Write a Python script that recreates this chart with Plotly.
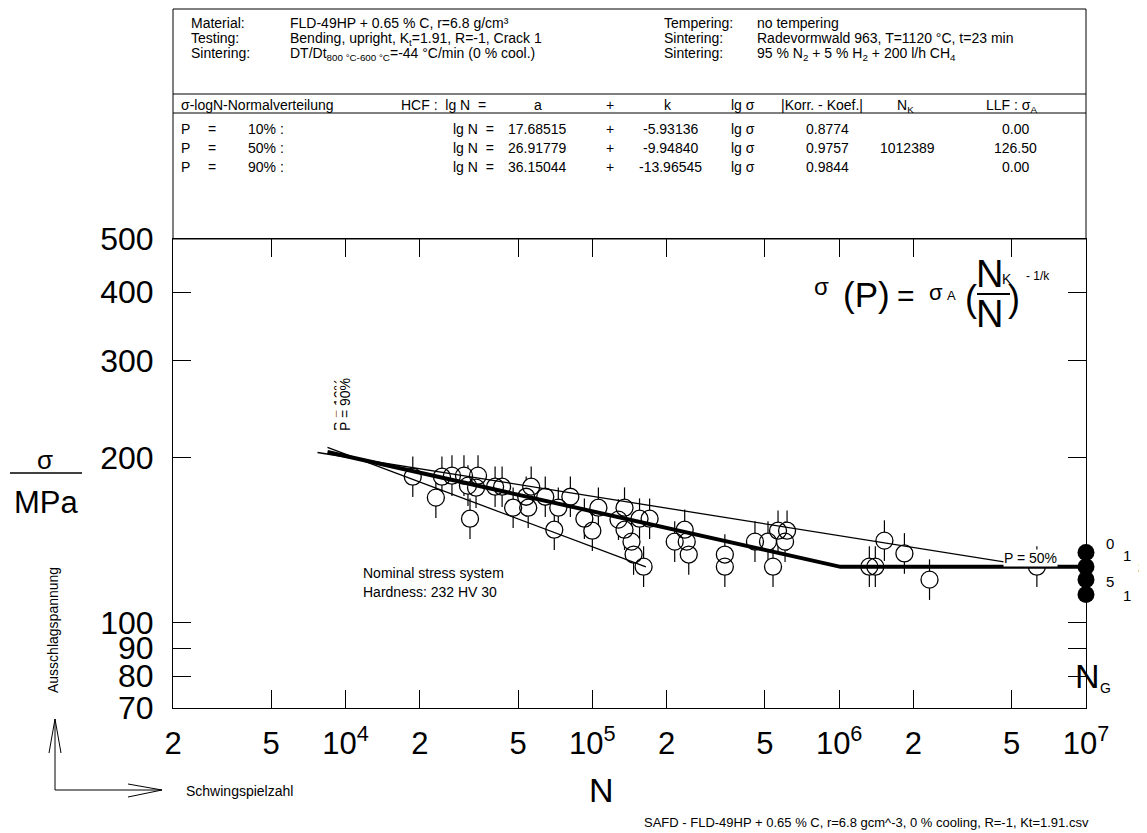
import math
import plotly.graph_objects as go

# ---------------- data ----------------
N_cycles = [18730, 23230, 24580, 26990, 30190, 34420, 31340, 33790, 31940, 40360,
            43090, 47760, 56520, 54960, 53940, 64450, 72790, 70110, 81450, 92830,
            105800, 100000, 127600, 135000, 135000, 144100, 146900, 161300, 155300, 170600,
            215600, 236700, 241200, 245800, 344200, 344200, 455900, 514800, 539500, 565300,
            615000, 603600, 1325000, 1401000, 1525000, 1838000, 2323000, 6324000]
sigma_a = [184.6, 169.1, 184.6, 185.4, 185.4, 185.4, 177.8, 176.3, 154.8, 177.0,
           177.0, 162.1, 177.0, 162.1, 169.7, 169.7, 162.1, 147.8, 169.7, 154.8,
           162.1, 147.2, 154.2, 162.1, 147.8, 140.6, 133.2, 126.6, 154.8, 154.8,
           140.6, 147.8, 140.6, 133.2, 133.2, 126.6, 140.6, 140.6, 126.6, 147.2,
           147.2, 140.6, 126.6, 126.6, 141.2, 133.8, 119.9, 126.6]

runout_N = [1e7, 1e7, 1e7, 1e7]
runout_sigma = [134.3, 126.6, 119.9, 112.6]
runout_labels = ["0", "1", "3", "5", "1"]

p10_N = [8450, 164800]
p10_sigma = [208.7, 126.5]
p50_N = [8450, 1012389, 1e7]
p50_sigma = [204.7, 126.5, 126.5]
p90_N = [7700, 6220000]
p90_sigma = [204.3, 126.5]

x_tickvals = [2e3, 5e3, 1e4, 2e4, 5e4, 1e5, 2e5, 5e5, 1e6, 2e6, 5e6, 1e7]
x_ticktext = ["2", "5", "10<sup>4</sup>", "2", "5", "10<sup>5</sup>",
              "2", "5", "10<sup>6</sup>", "2", "5", "10<sup>7</sup>"]
y_tickvals = [70, 80, 90, 100, 200, 300, 400, 500]
y_ticktext = ["70", "80", "90", "100", "200", "300", "400", "500"]

header_labels_left = ["Material:", "Testing:", "Sintering:"]
header_values_left = ["FLD-49HP + 0.65 % C, r=6.8 g/cm³",
                      "Bending, upright, K<sub>t</sub>=1.91, R=-1, Crack 1",
                      "DT/Dt<sub>800 °C-600 °C</sub>=-44 °C/min (0 % cool.)"]
header_labels_right = ["Tempering:", "Sintering:", "Sintering:"]
header_values_right = ["no tempering",
                       "Radevormwald 963, T=1120 °C, t=23 min",
                       "95 % N<sub>2</sub> + 5 % H<sub>2</sub> + 200 l/h CH<sub>4</sub>"]

prob_levels = ["10% :", "50% :", "90% :"]
coef_a = ["17.68515", "26.91779", "36.15044"]
coef_k = ["-5.93136", "-9.94840", "-13.96545"]
corr_coef = ["0.8774", "0.9757", "0.9844"]
N_K = ["", "1012389", ""]
LLF = ["0.00", "126.50", "0.00"]

# ---------------- layout helpers ----------------
# page offset of the figure inside the html body (default 8px body margin)
OFF = 8
W, H = 1147 - OFF, 833 - OFF
L, R, T, B = 173, 1086, 239, 708        # plot area in page pixels
FONT = "Arial, 'Liberation Sans', sans-serif"


def px(x):
    return (x - L) / (R - L)


def py(y):
    return (B - y) / (B - T)


annotations = []


def ann(text, x, y, size=14, xanchor="left", yanchor="middle", **kw):
    d = dict(text=text, x=px(x), y=py(y), xref="paper", yref="paper",
             showarrow=False, font=dict(size=size, color="black", family=FONT),
             xanchor=xanchor, yanchor=yanchor, borderpad=0)
    d.update(kw)
    annotations.append(d)


shapes = []


def line(x0, y0, x1, y1, w=1.0):
    shapes.append(dict(type="line", xref="paper", yref="paper",
                       x0=px(x0), y0=py(y0), x1=px(x1), y1=py(y1),
                       line=dict(color="black", width=w)))


# header box
shapes.append(dict(type="rect", xref="paper", yref="paper",
                   x0=px(173), y0=py(239), x1=px(1086), y1=py(9),
                   line=dict(color="black", width=1)))
line(173, 94, 1086, 94)
line(173, 113, 1086, 113)

row_y = [22, 37, 52]
for i in range(3):
    ann(header_labels_left[i], 190, row_y[i] - 8, yanchor="top")
    ann(header_values_left[i], 289, row_y[i] - 8, yanchor="top")
    ann(header_labels_right[i], 663, row_y[i] - 8, yanchor="top")
    ann(header_values_right[i], 756, row_y[i] - 8, yanchor="top")

# table header
ty = 104
ann("σ-logN-Normalverteilung", 180, ty - 8, yanchor="top")
ann("HCF :  lg N  =", 400, ty - 8, yanchor="top")
ann("a", 538, ty - 8, xanchor="center", yanchor="top")
ann("+", 610, ty - 8, xanchor="center", yanchor="top")
ann("k", 668, ty - 8, xanchor="center", yanchor="top")
ann("lg σ", 730, ty - 8, yanchor="top")
ann("|Korr. - Koef.|", 822, ty - 8, xanchor="center", yanchor="top")
ann("N<sub>K</sub>", 905, ty - 8, xanchor="center", yanchor="top")
ann("LLF : σ<sub>A</sub>", 985, ty - 8, yanchor="top")

rows = [128, 147, 166]
for i in range(3):
    yy = rows[i] - 8
    ann("P", 180, yy, yanchor="top")
    ann("=", 207, yy, yanchor="top")
    ann(prob_levels[i], 247, yy, yanchor="top")
    ann("lg N  =", 452, yy, yanchor="top")
    ann(coef_a[i], 537, yy, xanchor="center", yanchor="top")
    ann("+", 610, yy, xanchor="center", yanchor="top")
    ann(coef_k[i], 670, yy, xanchor="center", yanchor="top")
    ann("lg σ", 730, yy, yanchor="top")
    ann(corr_coef[i], 827, yy, xanchor="center", yanchor="top")
    if N_K[i]:
        ann(N_K[i], 907, yy, xanchor="center", yanchor="top")
    ann(LLF[i], 1015, yy, xanchor="center", yanchor="top")

# formula
ann("σ", 821, 286, size=24, xanchor="center")
ann("(P)", 866, 294, size=35, xanchor="center")
ann("=", 906, 295, size=30, xanchor="center")
ann("σ", 936, 292, size=22, xanchor="center")
ann("A", 951, 295, size=13, xanchor="center")
ann("(", 971, 298, size=36, xanchor="center")
ann("N", 989, 274, size=38, xanchor="center")
ann("K", 1007, 279, size=14, xanchor="center")
ann("N", 989, 314, size=38, xanchor="center")
ann(")", 1014, 298, size=36, xanchor="center")
ann("- 1/k", 1038, 276, size=12, xanchor="center")
line(977, 294, 1010, 294, 2)

# N_G
ann("N", 1087, 676, size=34, xanchor="center")
ann("G", 1105, 688, size=14, xanchor="center")

# labels inside plot
ann("Nominal stress system", 362, 573, size=14)
ann("Hardness: 232 HV 30", 362, 592, size=14)
ann("P = 50%", 1030, 558, size=14, xanchor="center", bgcolor="white")
ann("P = 10%", 339, 405, size=14, xanchor="center", textangle=-90)
ann("P = 90%", 345, 405, size=14, xanchor="center", textangle=-90, bgcolor="white")

# run-out counts
lab_pos = [(1110, 543), (1127, 555), (1142, 567), (1110, 581), (1127, 595)]
for t, (x, y) in zip(runout_labels, lab_pos):
    ann(t, x, y, size=15, xanchor="center")

# axis labels
ann("σ", 45, 460, size=26, xanchor="center")
line(10, 473, 82, 473, 1.5)
ann("MPa", 47, 502, size=31, xanchor="center")
ann("Ausschlagspannung", 53, 630, size=14, xanchor="center", textangle=-90)
ann("N", 601, 790, size=34, xanchor="center")
ann("Schwingspielzahl", 185, 791, size=14)
ann("SAFD - FLD-49HP + 0.65 % C, r=6.8 gcm^-3, 0 % cooling, R=-1, Kt=1.91.csv",
    1090, 822, size=13, xanchor="right")

# arrows
line(55, 790, 55, 719)
line(55, 719, 49, 753)
line(55, 719, 61, 753)
line(55, 790, 162, 790)
line(162, 790, 128, 784)
line(162, 790, 128, 797)

# ---------------- traces ----------------
fig = go.Figure()
fig.add_trace(go.Scatter(x=N_cycles, y=sigma_a, mode="markers", hoverinfo="skip",
                         marker=dict(symbol="line-ns", size=29,
                                     line=dict(color="black", width=1.2))))
fig.add_trace(go.Scatter(x=N_cycles, y=sigma_a, mode="markers", hoverinfo="skip",
                         marker=dict(symbol="circle", size=17, color="white",
                                     line=dict(width=0))))
fig.add_trace(go.Scatter(x=N_cycles, y=sigma_a, mode="markers",
                         marker=dict(symbol="circle-open", size=17, color="black",
                                     line=dict(color="black", width=1.3))))
fig.add_trace(go.Scatter(x=p10_N, y=p10_sigma, mode="lines",
                         line=dict(color="black", width=1.3)))
fig.add_trace(go.Scatter(x=p90_N, y=p90_sigma, mode="lines",
                         line=dict(color="black", width=1.3)))
fig.add_trace(go.Scatter(x=p50_N, y=p50_sigma, mode="lines",
                         line=dict(color="black", width=4)))
fig.add_trace(go.Scatter(x=runout_N, y=runout_sigma, mode="markers", cliponaxis=False,
                         marker=dict(symbol="circle", size=17, color="black",
                                     line=dict(width=0))))

axis_common = dict(showgrid=False, zeroline=False, showline=True, linecolor="black",
                   linewidth=1, mirror="ticks", ticks="inside", ticklen=18,
                   tickwidth=1, tickcolor="black")

fig.update_layout(
    width=W, height=H,
    margin=dict(l=L - OFF, r=W - (R - OFF), t=T - OFF, b=H - (B - OFF), pad=0),
    paper_bgcolor="white", plot_bgcolor="white",
    showlegend=False,
    font=dict(family=FONT, color="black"),
    xaxis=dict(type="log", range=[math.log10(2000), 7], tickmode="array",
               tickvals=x_tickvals, ticktext=x_ticktext,
               tickfont=dict(size=31, family=FONT, color="black"),
               ticklabelstandoff=8, **axis_common),
    yaxis=dict(type="log", range=[math.log10(70), math.log10(500)], tickmode="array",
               tickvals=y_tickvals, ticktext=y_ticktext,
               tickfont=dict(size=32, family=FONT, color="black"),
               ticklabelstandoff=12, **axis_common),
    annotations=annotations,
    shapes=shapes,
)

fig.write_html("out.html")
